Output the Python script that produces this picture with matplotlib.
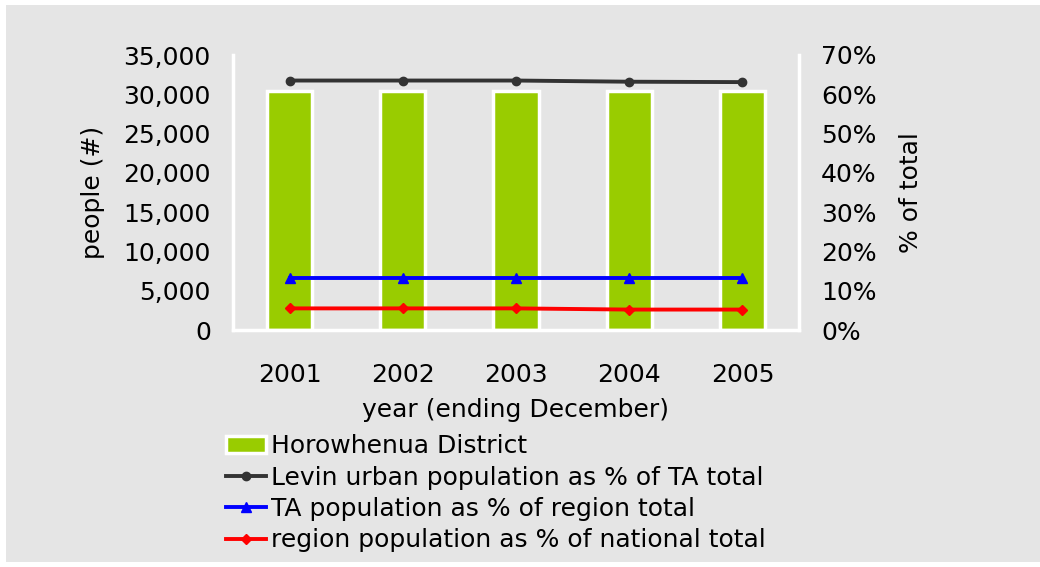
import matplotlib
matplotlib.use("Agg")
import matplotlib.pyplot as plt
from matplotlib.patches import Rectangle
from matplotlib.ticker import FuncFormatter, MultipleLocator

years = ["2001", "2002", "2003", "2004", "2005"]
district_pop = [30400, 30400, 30400, 30400, 30400]
levin_pct = [63.5, 63.5, 63.5, 63.2, 63.1]
ta_pct = [13.2, 13.2, 13.2, 13.2, 13.2]
region_pct = [5.5, 5.5, 5.5, 5.2, 5.2]

W, H = 1040, 567
plt.rcParams['font.family'] = ['DejaVu Sans']
fs = 18
fig = plt.figure(figsize=(W / 100, H / 100), dpi=100)
fig.patch.set_facecolor("white")
bg = "#e5e5e5"
fig.patches.append(Rectangle((6 / W, 5 / H), (W - 6) / W, (H - 10) / H,
                             transform=fig.transFigure, facecolor=bg,
                             edgecolor="none", zorder=-10))

L, R, T, B = 233, 799, 55, 330
ax = fig.add_axes([L / W, (H - B) / H, (R - L) / W, (B - T) / H])
ax.set_facecolor("none")
x = list(range(len(years)))
bars = ax.bar(x, district_pop, width=0.4, color="#99cc00", edgecolor="white",
              linewidth=2.5, label="Horowhenua District", zorder=2)
ax.set_xlim(-0.5, 4.5)
ax.set_ylim(0, 35000)
ax.yaxis.set_major_locator(MultipleLocator(5000))
ax.yaxis.set_major_formatter(FuncFormatter(lambda v, p: f"{int(v):,}"))
ax.set_xticks(x)
ax.set_xticklabels(years)
ax.tick_params(axis="both", length=0, labelsize=fs)
ax.tick_params(axis="y", pad=16)
ax.tick_params(axis="x", pad=24)
for s in ["top", "right"]:
    ax.spines[s].set_visible(False)
for s in ["left", "bottom"]:
    ax.spines[s].set_color("white")
    ax.spines[s].set_linewidth(2.5)
ax.set_ylabel("people (#)", fontsize=fs, labelpad=13)
ax.set_xlabel("year (ending December)", fontsize=fs, labelpad=8)

ax2 = ax.twinx()
ax2.set_ylim(0, 70)
ax2.yaxis.set_major_locator(MultipleLocator(10))
ax2.yaxis.set_major_formatter(FuncFormatter(lambda v, p: f"{int(v)}%"))
ax2.tick_params(axis="y", length=0, labelsize=fs, pad=16)
for s in ["top", "left", "bottom"]:
    ax2.spines[s].set_visible(False)
ax2.spines["right"].set_color("white")
ax2.spines["right"].set_linewidth(2.5)
ax2.set_ylabel("% of total", fontsize=fs, labelpad=16)

l1, = ax2.plot(x, levin_pct, color="#333333", lw=2.8, marker="o", ms=6,
               label="Levin urban population as % of TA total")
l2, = ax2.plot(x, ta_pct, color="#0000ff", lw=2.8, marker="^", ms=7,
               label="TA population as % of region total")
l3, = ax2.plot(x, region_pct, color="#ff0000", lw=2.8, marker="D", ms=5,
               label="region population as % of national total")

handles = [bars, l1, l2, l3]
leg = fig.legend(handles, [h.get_label() for h in handles], loc="upper left",
                 bbox_to_anchor=(226 / W, 1 - 434 / H), frameon=False,
                 fontsize=fs, handlelength=1.6, handletextpad=0.2,
                 labelspacing=0.3, borderaxespad=0, borderpad=0)

fig.savefig("out.png", dpi=100, facecolor=fig.get_facecolor())
